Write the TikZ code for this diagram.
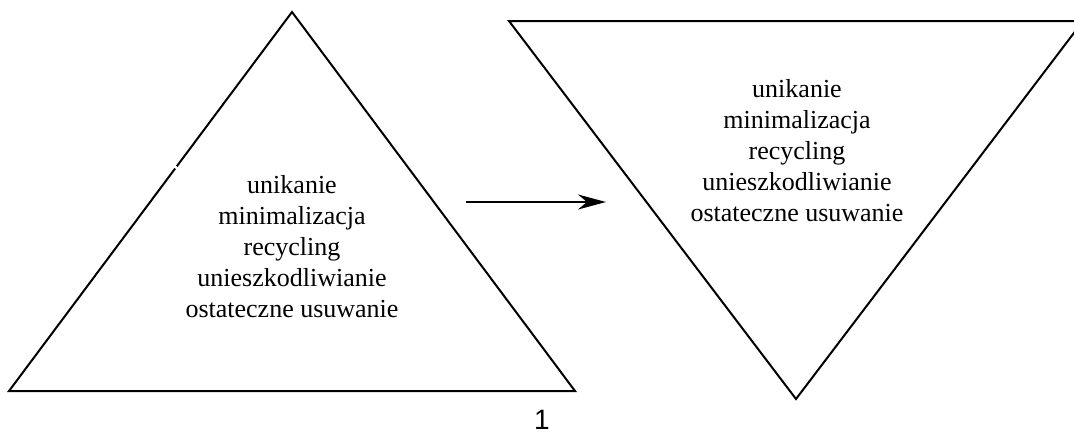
\documentclass[tikz,border=0pt]{standalone}
\usepackage{fontspec}
\setmainfont{Liberation Serif}
\newfontfamily\labelsans{Liberation Sans}
\usetikzlibrary{arrows.meta,calc}
\begin{document}
\begin{tikzpicture}[x=1pt,y=-1pt,
  tri/.style={draw=black,line width=2pt},
  txt/.style={font=\fontsize{26}{31}\selectfont, align=center, inner sep=0pt, anchor=base},
  arr/.style={draw=black,line width=2pt,-{Stealth[length=28pt,width=15pt,inset=9pt]}}]
\useasboundingbox (0,0) rectangle (1074,432);
% left triangle
\coordinate (LA) at (292,12);
\coordinate (LB) at (9,391);
\coordinate (LC) at (575,391);
\coordinate (G1) at ($(LA)!0.407!(LB)$);
\coordinate (G2) at ($(LA)!0.413!(LB)$);
\draw[tri] (G2) -- (LB) -- (LC) -- (LA) -- (G1);
% right triangle
\coordinate (RA) at (509,21);
\coordinate (RB) at (1083,21);
\coordinate (RC) at (796,399);
\draw[tri] (RA) -- (RB) -- (RC) -- cycle;
% texts (base anchor = baseline of last line)
\node[txt] (ltext) at (292,317) {unikanie\\minimalizacja\\recycling\\unieszkodliwianie\\ostateczne usuwanie};
\node[txt] (rtext) at (797,221) {unikanie\\minimalizacja\\recycling\\unieszkodliwianie\\ostateczne usuwanie};
% arrow
\coordinate (AS) at (466,202);
\coordinate (AE) at (606,202);
\draw[arr] (AS) -- (AE);
% label
\node[font=\labelsans\fontsize{28}{28}\selectfont, inner sep=0pt, anchor=base] (one) at (542,429.5) {1};
\end{tikzpicture}
\end{document}
